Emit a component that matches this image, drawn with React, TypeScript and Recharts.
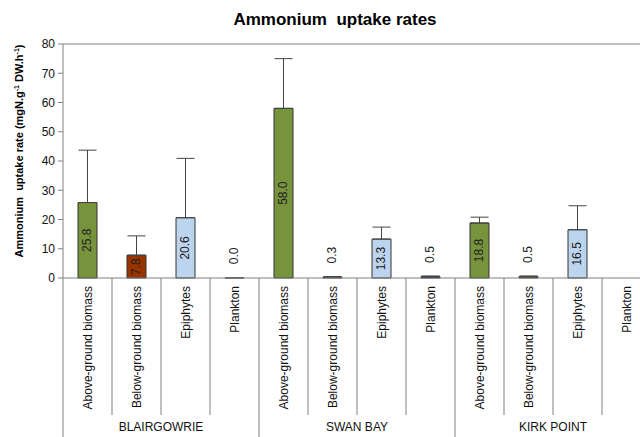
import { Bar, BarChart, Cell, ErrorBar, LabelList, ReferenceLine, XAxis, YAxis } from "recharts";

const CATEGORIES = [
  "Above-ground biomass",
  "Below-ground biomass",
  "Epiphytes",
  "Plankton",
  "Above-ground biomass",
  "Below-ground biomass",
  "Epiphytes",
  "Plankton",
  "Above-ground biomass",
  "Below-ground biomass",
  "Epiphytes",
  "Plankton",
];
const SITES = ["BLAIRGOWRIE", "SWAN BAY", "KIRK POINT"];
// the 0.0 bar is drawn as a hairline in the source, so it is a tiny non-zero value
const VALUES: Array<number | null> = [25.8, 7.8, 20.6, 0.04, 58.0, 0.3, 13.3, 0.5, 18.8, 0.5, 16.5, null];
const ERRORS: Array<number | null> = [17.9, 6.6, 20.3, null, 17.0, 0.2, 4.1, 0.2, 2.0, 0.2, 8.2, null];
const Y_TICKS = [0, 10, 20, 30, 40, 50, 60, 70, 80];

const C_ABOVE = "#77933C";
const C_BELOW = "#993300";
const C_EPI = "#BDD4EE";
const C_PLANKTON = "#000080";
const TYPE_COLORS = [C_ABOVE, C_BELOW, C_EPI, C_PLANKTON];
const C_AXIS = "#808080";
const FONT = "'Liberation Sans', Arial, sans-serif";

const CHART_W = 660;
const CHART_H = 437;
const PLOT_LEFT = 63;
const PLOT_RIGHT = 9;
const BAND = (CHART_W - PLOT_LEFT - PLOT_RIGHT) / CATEGORIES.length;

const data = CATEGORIES.map((name, i) => ({
  key: `${SITES[Math.floor(i / 4)]}-${name}`,
  name,
  site: SITES[Math.floor(i / 4)],
  value: VALUES[i],
  err: ERRORS[i] == null ? null : [0, ERRORS[i] as number],
}));

function CategoryTick(props: any) {
  const { x, y, payload } = props;
  const i = payload.index as number;
  const left = x - BAND / 2;
  const groupStart = i % 4 === 0;
  return (
    <g>
      <line x1={left} x2={left} y1={y} y2={y + (groupStart ? 159 : 137)} stroke={C_AXIS} />
      {i === CATEGORIES.length - 1 && (
        <line x1={left + BAND} x2={left + BAND} y1={y} y2={y + 159} stroke={C_AXIS} />
      )}
      <text
        x={x + 4}
        y={y + 8}
        transform={`rotate(-90, ${x + 4}, ${y + 8})`}
        textAnchor="end"
        fontSize={12}
        fontFamily={FONT}
        fill="#111"
      >
        {CATEGORIES[i]}
      </text>
      {groupStart && (
        <text x={left + 2 * BAND} y={y + 153} textAnchor="middle" fontSize={12} fontFamily={FONT} fill="#111">
          {SITES[i / 4]}
        </text>
      )}
    </g>
  );
}

function ValueLabel(props: any) {
  const { x, y, width, height, value } = props;
  if (value == null) return null;
  const cx = x + width / 2;
  const h = Math.abs(height);
  const top = Math.min(y, y + height);
  const cy = h > 18 ? top + h / 2 : top - 22;
  return (
    <text
      x={cx}
      y={cy}
      transform={`rotate(-90, ${cx}, ${cy})`}
      textAnchor="middle"
      dominantBaseline="central"
      fontSize={12}
      fontFamily={FONT}
      fill="#222"
    >
      {Number(value).toFixed(1)}
    </text>
  );
}

export default function App() {
  return (
    <div
      style={{
        position: "fixed",
        top: 0,
        left: 0,
        width: 640,
        height: 437,
        overflow: "hidden",
        background: "#fff",
      }}
    >
      <BarChart
        width={CHART_W}
        height={CHART_H}
        data={data}
        margin={{ top: 44, right: PLOT_RIGHT, left: 8, bottom: 0 }}
      >
        <XAxis
          dataKey="key"
          interval={0}
          height={159}
          tickSize={0}
          tickMargin={0}
          tickLine={false}
          stroke={C_AXIS}
          tick={<CategoryTick />}
        />
        <YAxis
          width={55}
          domain={[0, 80]}
          ticks={Y_TICKS}
          tickSize={5}
          tickMargin={3}
          stroke={C_AXIS}
          tick={{ fill: "#111", fontSize: 12, fontFamily: FONT }}
        />
        <ReferenceLine y={80} stroke={C_AXIS} />
        <Bar dataKey="value" barSize={19} stroke="#333" strokeWidth={1} isAnimationActive={false}>
          {data.map((_, i) => (
            <Cell key={i} fill={TYPE_COLORS[i % 4]} />
          ))}
          <ErrorBar dataKey="err" direction="y" width={9} stroke="#444" strokeWidth={1} />
          <LabelList dataKey="value" content={<ValueLabel />} />
        </Bar>
      </BarChart>
      <svg
        width={640}
        height={437}
        style={{ position: "absolute", top: 0, left: 0, pointerEvents: "none" }}
      >
        <text x={335} y={25} textAnchor="middle" fontSize={17} fontWeight="bold" fontFamily={FONT} fill="#000">
          Ammonium{"\u00a0\u00a0"}uptake rates
        </text>
        <text
          x={23}
          y={151}
          transform="rotate(-90, 23, 151)"
          textAnchor="middle"
          fontSize={11}
          fontWeight="bold"
          fontFamily={FONT}
          fill="#000"
        >
          Ammonium{"\u00a0\u00a0"}uptake rate (mgN.g
          <tspan fontSize={7} dy={-4}>-1</tspan>
          <tspan dy={4}> DW.h</tspan>
          <tspan fontSize={7} dy={-4}>-1</tspan>
          <tspan dy={4}>)</tspan>
        </text>
      </svg>
    </div>
  );
}
